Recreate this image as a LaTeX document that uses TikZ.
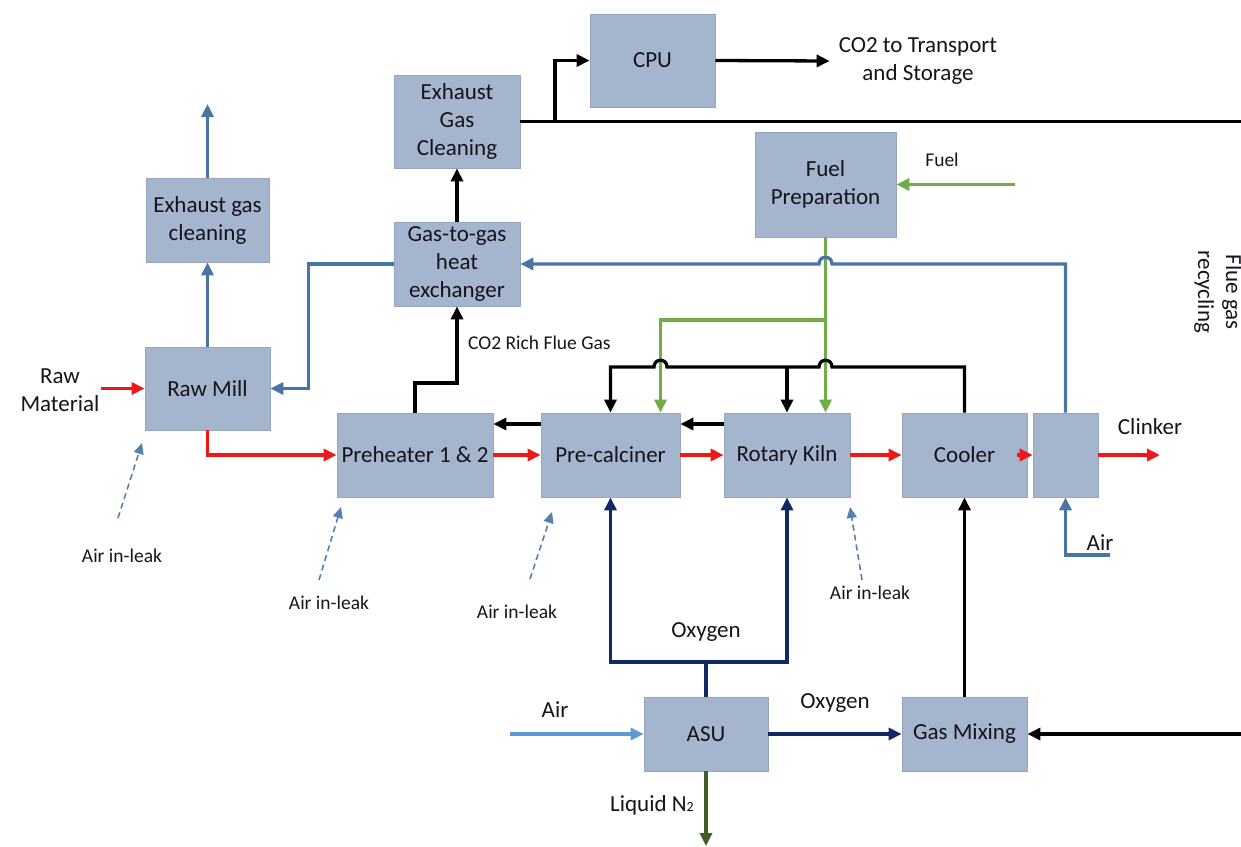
\documentclass[tikz,border=0pt]{standalone}
\usepackage{fontspec}
\setmainfont{Carlito}
\usetikzlibrary{arrows.meta}
\definecolor{boxfill}{RGB}{165,181,205}
\definecolor{boxedge}{RGB}{150,166,192}
\definecolor{ink}{RGB}{20,20,28}
\definecolor{steel}{RGB}{72,117,163}
\definecolor{hot}{RGB}{238,24,24}
\definecolor{fuelgreen}{RGB}{112,173,71}
\definecolor{navy}{RGB}{18,40,100}
\definecolor{airblue}{RGB}{91,155,213}
\definecolor{nitro}{RGB}{62,96,40}
\definecolor{leakblue}{RGB}{84,130,172}
\begin{document}
\begin{tikzpicture}[x=1pt,y=-1pt,
  font=\fontsize{23}{28}\selectfont,
  unit/.style={draw=boxedge,line width=0.8pt,fill=boxfill,inner sep=0pt,align=center,text=ink},
  boxsize/.style n args={2}{minimum width=#1pt,minimum height=#2pt},
  lbl/.style={inner sep=0pt,align=center,text=ink},
  small/.style={lbl,font=\fontsize{19.5}{24}\selectfont},
  tip/.style={-{Triangle[length=13pt,width=12pt]}},
  pipe/.style={line width=3.3pt},
  blk/.style={pipe,draw=black},
  bluline/.style={pipe,draw=steel},
  redl/.style={pipe,draw=hot},
  grn/.style={pipe,draw=fuelgreen},
  nav/.style={pipe,draw=navy},
  leak/.style={line width=1.6pt,draw=leakblue,dash pattern=on 6pt off 4pt,
    -{Triangle[length=11pt,width=10pt]}}
]
\useasboundingbox (0,0) rectangle (1241,846);
\clip (0,0) rectangle (1241,846);

% process units
\node[unit,boxsize={125}{93}]  (cpu)      at (652.5,60.5) {CPU};
\node[unit,boxsize={126}{93}]  (egc)      at (457,121.5)  {Exhaust\\Gas\\Cleaning};
\node[unit,boxsize={141}{105}] (fuelprep) at (825.5,184.5) {Fuel\\Preparation};
\node[unit,boxsize={123}{84}]  (egcl)     at (207.5,220)  {Exhaust gas\\cleaning};
\node[unit,boxsize={126}{84}]  (gtg)      at (457,264)    {Gas-to-gas\\heat\\exchanger};
\node[unit,boxsize={125}{83}]  (rawmill)  at (207.5,388.5) {Raw Mill};
\node[unit,boxsize={156}{84}]  (pre)      at (415,455)    {Preheater 1 \& 2};
\node[unit,boxsize={139}{84}]  (calc)     at (610.5,455)  {Pre-calciner};
\node[unit,boxsize={126}{84}]  (kiln)     at (787,455)    {Rotary Kiln};
\node[unit,boxsize={125}{84}]  (cooler)   at (964.5,455)  {Cooler};
\node[unit,boxsize={65}{84}]   (aux)      at (1065.5,455) {};
\node[unit,boxsize={124}{74}]  (asu)      at (706,734)    {ASU};
\node[unit,boxsize={125}{74}]  (mix)      at (964.5,734)  {Gas Mixing};

% labels
\node[lbl,inner sep=9pt] (co2) at (918,61) {CO2 to Transport\\and Storage};
\node[lbl,inner sep=1pt] (rawmat) at (60,390) {Raw\\Material};
\node[small] (fuellbl) at (942,160) {Fuel};
\node[small,anchor=west] (richlbl) at (468,343) {CO2 Rich Flue Gas};
\node[lbl,rotate=-90] (fgr) at (1218,292) {Flue gas\\recycling};
\node[lbl] (clinker) at (1150,427) {Clinker};
\node[lbl] (airright) at (1100,543) {Air};
\node[lbl] (o2top) at (706,632) {Oxygen};
\node[lbl] (airleft) at (555,710) {Air};
\node[lbl] (o2mid) at (835,703) {Oxygen};
\node[lbl] (n2) at (652,805) {Liquid N{\fontsize{14}{14}\selectfont 2}};
\node[small] (lk1) at (122,556) {Air in-leak};
\node[small] (lk2) at (329,603) {Air in-leak};
\node[small] (lk3) at (517,612) {Air in-leak};
\node[small] (lk4) at (870,593) {Air in-leak};

% free ends and junctions
\coordinate (fgTop) at (1252,121.5);
\coordinate (fgBot) at (1252,734);
\coordinate (cputap) at (555,121.5);
\coordinate (stackOut) at (207.5,104);
\coordinate (fuelIn) at (1015,184.5);
\coordinate (clinkerOut) at (1160,455);
\coordinate (airAuxIn) at (1110,555);
\coordinate (airAsuIn) at (510,734);
\coordinate (n2Out) at (706,846);
\coordinate (o2split) at (706,662);
\coordinate (gkiln) at ([xshift=38.5pt]kiln.north);
\coordinate (gcalc) at ([xshift=50pt]calc.north);
\coordinate (lk1tail) at (118,518);  \coordinate (lk1head) at (142,443);
\coordinate (lk2tail) at (319,580);  \coordinate (lk2head) at (341,507);
\coordinate (lk3tail) at (530,579);  \coordinate (lk3head) at (552,512);
\coordinate (lk4tail) at (862,580);  \coordinate (lk4head) at (850,507);

% flue gas path to CPU and recycling
\draw[blk] (egc.east) -- (fgTop) -- (fgBot);
\draw[blk,tip] (fgBot) -- (mix.east);
\draw[blk,tip] (cputap) |- (cpu.west);
\draw[blk,tip] (cpu.east) -- (co2.west);
\draw[blk,tip] (gtg.north) -- (egc.south);
\draw[blk,tip] (pre.north) -- (415,383) -| (gtg.south);
\draw[blk,tip] ([yshift=31pt]kiln.west) -- ([yshift=31pt]calc.east);
\draw[blk,tip] ([yshift=31pt]calc.west) -- ([yshift=31pt]pre.east);
\draw[blk,tip] (mix.north) -- (cooler.south);

% fuel
\draw[grn,tip] (fuelIn) -- (fuelprep.east);
\draw[grn,tip] (fuelprep.south) -- (gkiln);
\draw[grn,tip] (fuelprep.south |- 0,320) -| (gcalc);

% hot air from cooler to kiln and calciner (hops over fuel lines)
\draw[blk,tip] (cooler.north) |- (832,367)
  .. controls (832,358) and (819,358) .. (819,367) -- (667,367)
  .. controls (667,358) and (654,358) .. (654,367) -| (calc.north);
\draw[blk,tip] (kiln.north |- 0,367) -- (kiln.north);

% cooler exhaust air through heat exchanger to raw mill
\draw[bluline,tip] (aux.north) |- (832,264)
  .. controls (832,255) and (819,255) .. (819,264) -- (gtg.east);
\draw[bluline,tip] (gtg.west) -- ++(-85,0) |- (rawmill.east);
\draw[bluline,tip] (rawmill.north) -- (egcl.south);
\draw[bluline,tip] (egcl.north) -- (stackOut);
\draw[bluline,tip] (airAuxIn) -- (1065.5,555) -- (aux.south);

% solids
\draw[redl,tip] (rawmat.east |- rawmill.west) -- (rawmill.west);
\draw[redl,tip] (rawmill.south) |- (pre.west);
\draw[redl,tip] (pre.east) -- (calc.west);
\draw[redl,tip] (calc.east) -- (kiln.west);
\draw[redl,tip] (kiln.east) -- (cooler.west);
\draw[redl,tip] ([xshift=-10pt]cooler.east) -- (aux.west);
\draw[redl,tip] (aux.east) -- (clinkerOut);

% air separation
\draw[pipe,draw=airblue,tip] (airAsuIn) -- (asu.west);
\draw[nav] (asu.north) -- (o2split);
\draw[nav,tip] (o2split) -| (calc.south);
\draw[nav,tip] (o2split) -| (kiln.south);
\draw[nav,tip] (asu.east) -- (mix.west);
\draw[pipe,draw=nitro,tip] (asu.south) -- (n2Out);

% air in-leakage
\draw[leak] (lk1tail) -- (lk1head);
\draw[leak] (lk2tail) -- (lk2head);
\draw[leak] (lk3tail) -- (lk3head);
\draw[leak] (lk4tail) -- (lk4head);
\end{tikzpicture}
\end{document}
